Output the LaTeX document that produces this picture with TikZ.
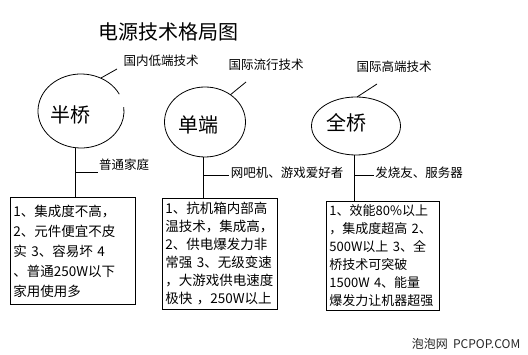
\documentclass[tikz,border=0pt]{standalone}
\usepackage{fontspec}
\setmainfont{Noto Sans CJK SC}
\usetikzlibrary{shapes.geometric}

\begin{document}
\begin{tikzpicture}[
  x=1pt, y=-1pt,
  line width=0.8pt,
  bubble/.style={ellipse, outer sep=0pt, inner sep=0pt},
  big/.style={font=\fontsize{20}{24}\selectfont},
  tag/.style={font=\fontsize{12.5}{15}\selectfont, inner sep=1pt},
  spec/.style={draw, rectangle, anchor=north west, align=left,
    inner xsep=3pt, inner ysep=0pt},
]
  \useasboundingbox (0,0) rectangle (528,355);

  %% Title
  \node[big] (title) at (168,32) {电源技术格局图};

  %% Bubbles
  \node[bubble, minimum width=86pt, minimum height=74pt] (hb) at (81,111) {};
  \draw ([shift={(27:43pt and 37pt)}]hb.center)
    arc[start angle=27, end angle=366, x radius=43pt, y radius=37pt];
  \node[big] (hbname) at (70,115) {半桥};

  \node[bubble, draw, minimum width=81pt, minimum height=70pt] (dd) at (205,122) {};
  \node[big] (ddname) at (198,125) {单端};

  \node[bubble, draw, minimum width=89pt, minimum height=58pt] (qq) at (356,126) {};
  \node[big] (qqname) at (346,123) {全桥};

  %% Level tags
  \node[tag] (hbtag) at (161,61) {国内低端技术};
  \node[tag] (ddtag) at (266,65) {国际流行技术};
  \node[tag] (qqtag) at (394,67) {国际高端技术};
  \coordinate (hbtip) at (117,69);
  \coordinate (ddtip) at (246,82);
  \coordinate (qqtip) at (377,84);
  \draw (hb.59) -- (hbtip);
  \draw (dd.47) -- (ddtip);
  \draw (qq.88) -- (qqtip);

  %% Users
  \node[tag] (hbuse) at (124,165) {普通家庭};
  \node[tag] (dduse) at (287,173) {网吧机、游戏爱好者};
  \node[tag] (qquse) at (419,173) {发烧友、服务器};

  %% Spec boxes
  \node[spec, font=\fontsize{13.5}{20}\selectfont, text width=119pt,
    minimum height=107pt] (hbbox) at (10,197)
    {1、集成度不高，\\2、元件便宜不皮\\实~3、容易坏~4\\、普通250W以下\\家用使用多};
  \node[spec, font=\fontsize{13.5}{18}\selectfont, text width=109pt,
    minimum height=111pt] (ddbox) at (162,198)
    {1、抗机箱内部高\\温技术，集成高，\\2、供电爆发力非\\常强~3、无级变速\\，大游戏供电速度\\极快~，250W以上};
  \node[spec, font=\fontsize{13}{18}\selectfont, text width=107pt,
    minimum height=109pt] (qqbox) at (326,201)
    {1、效能80\%以上\\，集成度超高~2、\\500W以上~3、全\\桥技术可突破\\1500W~4、能量\\爆发力让机器超强};

  %% Stems
  \coordinate (hbstem) at ([xshift=-6pt]hb.south);
  \coordinate (ddstem) at ([xshift=-2pt]dd.south);
  \coordinate (qqstem) at ([xshift=-2pt]qq.south);
  \draw (hbstem) -- (hbstem |- hbbox.north);
  \draw (ddstem) -- (ddstem |- ddbox.north);
  \draw (qqstem) -- (qqstem |- qqbox.north);
  \draw (hbstem |- hbuse.south) -- (hbuse.south west);
  \draw ([yshift=-2pt]ddstem |- dduse.west) -- ([yshift=-2pt]dduse.west);
  \draw ([yshift=-2pt]qqstem |- qquse.west) -- ([yshift=-2pt]qquse.west);

  %% Watermark
  \node[font=\fontsize{12}{14}\selectfont, text=black!85] (mark) at (466,344)
    {泡泡网~~PCPOP.COM};
\end{tikzpicture}
\end{document}
